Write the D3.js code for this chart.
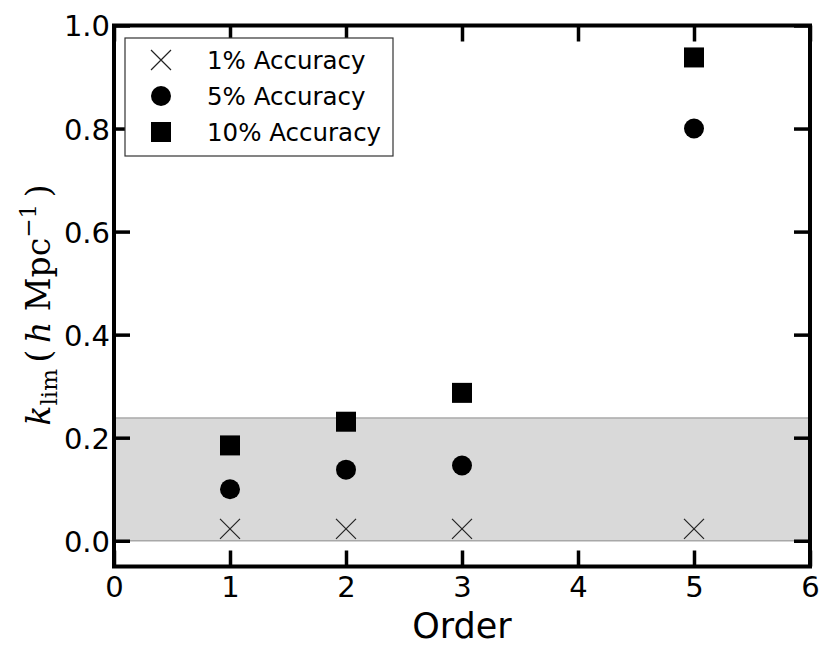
<!DOCTYPE html>
<html><head><meta charset="utf-8">
<script src="https://cdn.jsdelivr.net/npm/d3@7"></script>
<style>body{margin:0;background:#fff}</style>
</head><body><svg id="c" width="831" height="657"></svg>
<script>
const orders = [1, 2, 3, 5];
const acc1 = [0.023, 0.023, 0.023, 0.023];
const acc5 = [0.100, 0.138, 0.146, 0.800];
const acc10 = [0.185, 0.231, 0.287, 0.938];
const bandTop = 0.238;
const xTicks = [0, 1, 2, 3, 4, 5, 6];
const yTicks = [0.0, 0.2, 0.4, 0.6, 0.8, 1.0];
const legendLabels = ["1% Accuracy", "5% Accuracy", "10% Accuracy"];

const svg = d3.select("#c");
const L = 114, R = 810, T = 25.5, B = 566.5;
const x = d3.scaleLinear().domain([0, 6]).range([L, R]);
const y = d3.scaleLinear().domain([-0.05, 1.0]).range([B, T]);
const font = "DejaVu Sans";

// band
svg.append("rect").attr("x", x(0)).attr("width", x(6) - x(0))
  .attr("y", y(bandTop)).attr("height", y(0) - y(bandTop)).attr("fill", "#d9d9d9");
[0, bandTop].forEach(v => svg.append("line").attr("x1", x(0)).attr("x2", x(6))
  .attr("y1", y(v)).attr("y2", y(v)).attr("stroke", "#a8a8a8").attr("stroke-width", 1.5));

// axes with inward ticks
const tl = 16;
const gB = svg.append("g").attr("transform", `translate(0,${B})`)
  .call(d3.axisBottom(x).tickValues(xTicks).tickFormat(d3.format("d")).tickSizeInner(-tl).tickSizeOuter(0).tickPadding(10));
const gT = svg.append("g").attr("transform", `translate(0,${T})`)
  .call(d3.axisTop(x).tickValues(xTicks).tickFormat("").tickSizeInner(-tl).tickSizeOuter(0));
const gL = svg.append("g").attr("transform", `translate(${L},0)`)
  .call(d3.axisLeft(y).tickValues(yTicks).tickFormat(d3.format(".1f")).tickSizeInner(-tl).tickSizeOuter(0).tickPadding(4));
const gR = svg.append("g").attr("transform", `translate(${R},0)`)
  .call(d3.axisRight(y).tickValues(yTicks).tickFormat("").tickSizeInner(-tl).tickSizeOuter(0));
[gB, gT, gL, gR].forEach(g => {
  g.select(".domain").remove();
  g.selectAll(".tick line").attr("stroke", "#000").attr("stroke-width", 3.5);
  g.selectAll("text").attr("font-family", font).attr("font-size", 29).attr("fill", "#000");
});
gB.selectAll("text").attr("dy", "0.71em");
gL.selectAll("text").attr("dy", "0.36em");

// frame
svg.append("rect").attr("x", L).attr("y", T).attr("width", R - L).attr("height", B - T)
  .attr("fill", "none").attr("stroke", "#000").attr("stroke-width", 4);

// markers
const xMark = (g, cx, cy) => g.append("path")
  .attr("d", `M${cx-10},${cy-10}L${cx+10},${cy+10}M${cx-10},${cy+10}L${cx+10},${cy-10}`)
  .attr("stroke", "#222").attr("stroke-width", 1.2).attr("fill", "none");
orders.forEach((o, i) => xMark(svg, x(o), y(acc1[i])));
svg.selectAll("circle.p5").data(orders).enter().append("circle")
  .attr("cx", d => x(d)).attr("cy", (d, i) => y(acc5[i])).attr("r", 10).attr("fill", "#000");
svg.selectAll("rect.p10").data(orders).enter().append("rect")
  .attr("x", d => x(d) - 10).attr("y", (d, i) => y(acc10[i]) - 10)
  .attr("width", 20).attr("height", 20).attr("fill", "#000");

// legend
const lg = svg.append("g");
lg.append("rect").attr("x", 125).attr("y", 38).attr("width", 268).attr("height", 118)
  .attr("fill", "#fff").attr("stroke", "#333").attr("stroke-width", 1.2);
const rows = [60, 96, 132];
xMark(lg, 161, rows[0]);
lg.append("circle").attr("cx", 161).attr("cy", rows[1]).attr("r", 10).attr("fill", "#000");
lg.append("rect").attr("x", 151).attr("y", rows[2] - 10).attr("width", 20).attr("height", 20).attr("fill", "#000");
legendLabels.forEach((t, i) => lg.append("text").attr("x", 207).attr("y", rows[i]).attr("dy", "0.36em")
  .attr("font-family", font).attr("font-size", 24.5).text(t));

// x label
svg.append("text").attr("x", (L + R) / 2).attr("y", 638).attr("text-anchor", "middle")
  .attr("font-family", font).attr("font-size", 35).text("Order");

// y label (math text)
const yl = svg.append("text").attr("transform", "translate(50,305) rotate(-90)")
  .attr("text-anchor", "middle").attr("font-family", "DejaVu Serif").attr("font-size", 33);
yl.append("tspan").attr("font-style", "italic").text("k");
yl.append("tspan").attr("font-size", 23).attr("dy", 7).text("lim");
yl.append("tspan").attr("dy", -7).text("\u2009(\u2009");
yl.append("tspan").attr("font-style", "italic").text("h");
yl.append("tspan").text(" Mpc");
yl.append("tspan").attr("font-size", 23).attr("dy", -14).text("\u22121");
yl.append("tspan").attr("dy", 14).text("\u2009)");
</script></body></html>
